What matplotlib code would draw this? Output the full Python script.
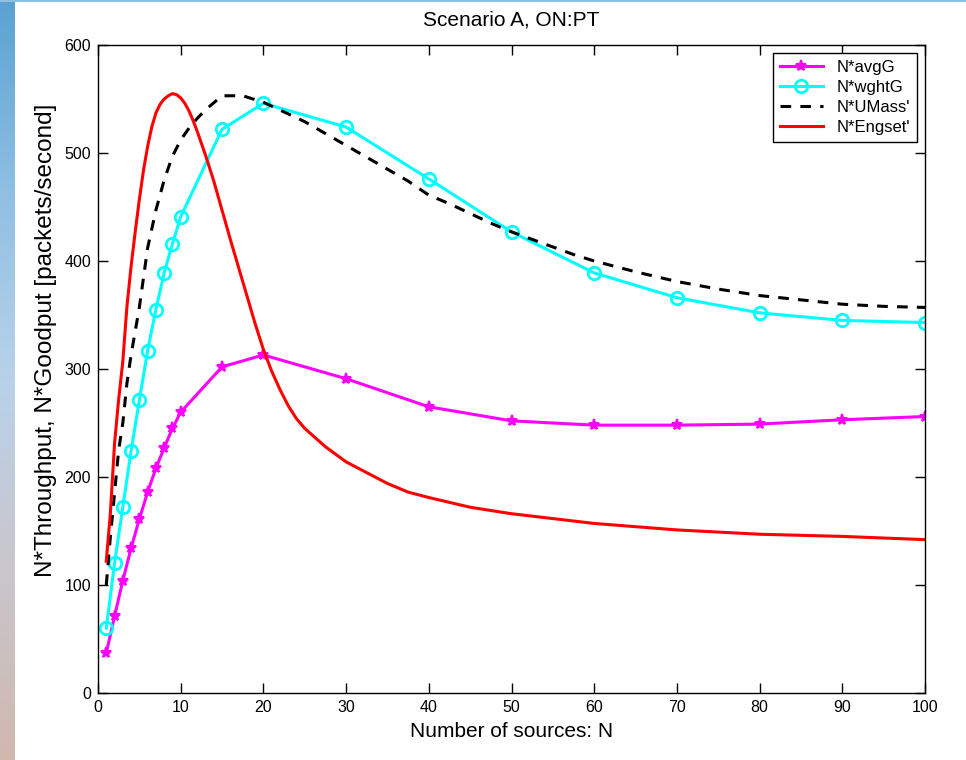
import numpy as np
import matplotlib
matplotlib.use('Agg')
import matplotlib.pyplot as plt

plt.rcParams['font.family'] = ['Liberation Sans', 'DejaVu Sans']

# measured points (N, value)
n_pts = [1, 2, 3, 4, 5, 6, 7, 8, 9, 10, 15, 20, 30, 40, 50, 60, 70, 80, 90, 100]
avg_g = [37, 71, 104, 134, 161, 186, 208, 227, 245, 260, 302, 313, 291, 265, 252, 248, 248, 249, 253, 256]
wght_g = [60, 120, 172, 224, 271, 317, 355, 389, 416, 441, 522, 546, 524, 476, 427, 389, 366, 352, 345, 343]

umass_n = [1, 1.5, 2, 2.5, 3, 3.5, 4, 5, 6, 7, 8, 9, 10, 11, 12, 13, 15, 17.5, 20, 22.5, 25, 27.5,
           30, 32.5, 35, 37.5, 40, 42.5, 45, 47.5, 50, 52.5, 55, 57.5, 60, 65, 70, 75, 80, 85, 90, 95, 100]
umass = [100, 145, 185, 225, 250, 287, 313, 357, 412, 447, 475, 497, 512, 523, 532, 540, 553, 553,
         547, 538, 529, 518, 507, 496, 485, 474, 461, 453, 444, 435, 427, 420, 413, 406, 400, 390,
         381, 374, 368, 364, 360, 358, 357]

engset_n = [1, 1.5, 2, 2.5, 3, 3.5, 4, 4.5, 5, 5.5, 6, 6.5, 7, 7.5, 8, 8.5, 9, 9.5, 10, 10.5, 11,
            11.5, 12, 13, 14, 15, 16, 17, 18, 19, 20, 21, 22, 23, 24, 25, 27.5, 30, 32.5, 35, 37.5,
            40, 45, 50, 60, 70, 80, 90, 100]
engset = [122, 167, 231, 272, 307, 358, 395, 427, 457, 484, 506, 524, 537, 545, 550, 553, 555, 554,
          551, 546, 539, 530, 520, 498, 474, 447, 420, 394, 368, 342, 318, 298, 281, 266, 254, 245,
          228, 214, 204, 194, 186, 181, 172, 166, 157, 151, 147, 145, 142]

fig = plt.figure(figsize=(9.66, 7.6), dpi=100)
fig.patch.set_facecolor('white')

# blue gradient strip on the left edge + thin line on top
grad = np.linspace(0, 1, 256).reshape(-1, 1)
cmap = matplotlib.colors.LinearSegmentedColormap.from_list(
    'bg', ['#5aa2d2', '#8fbfe3', '#b9d2ea', '#c9c6cc', '#d0b8ae'])
bg = fig.add_axes([0, 0, 15 / 966, 1])
bg.imshow(grad, aspect='auto', cmap=cmap)
bg.axis('off')
top = fig.add_axes([0, 1 - 2 / 760, 1, 2 / 760])
top.axis('off')
top.add_patch(plt.Rectangle((0, 0), 1, 1, color='#8fbfe3', transform=top.transAxes))

ax = fig.add_axes([98 / 966, 1 - 693 / 760, 827 / 966, 648 / 760])
ax.plot(n_pts, avg_g, color='magenta', lw=2.2, marker='*', ms=8, mew=1.5, label='N*avgG')
ax.plot(n_pts, wght_g, color='cyan', lw=2.2, marker='o', ms=9, mfc='none', mew=2, label='N*wghtG')
ax.plot(umass_n, umass, color='black', lw=2.2, ls=(0, (3.5, 3)), label="N*UMass'")
ax.plot(engset_n, engset, color='red', lw=2.2, label="N*Engset'")

ax.set_xlim(0, 100)
ax.set_ylim(0, 600)
ax.set_xticks(range(0, 101, 10))
ax.set_yticks(range(0, 601, 100))
ax.tick_params(direction='in', top=True, right=True, labelsize=11.5, length=7, width=1, pad=5)
for s in ax.spines.values():
    s.set_linewidth(1)
ax.set_title('Scenario A, ON:PT', fontsize=15, pad=14)
ax.set_xlabel('Number of sources: N', fontsize=15, labelpad=5)
ax.set_ylabel('N*Throughput, N*Goodput [packets/second]', fontsize=17.5)
ax.yaxis.set_label_coords(-0.05, 0.545)
leg = ax.legend(loc='upper right', fontsize=12, fancybox=False, edgecolor='black',
                framealpha=1, handlelength=2.6, borderaxespad=0.5, labelspacing=0.3,
                borderpad=0.4)
leg.get_frame().set_linewidth(1)

plt.savefig('out.png', dpi=100)
